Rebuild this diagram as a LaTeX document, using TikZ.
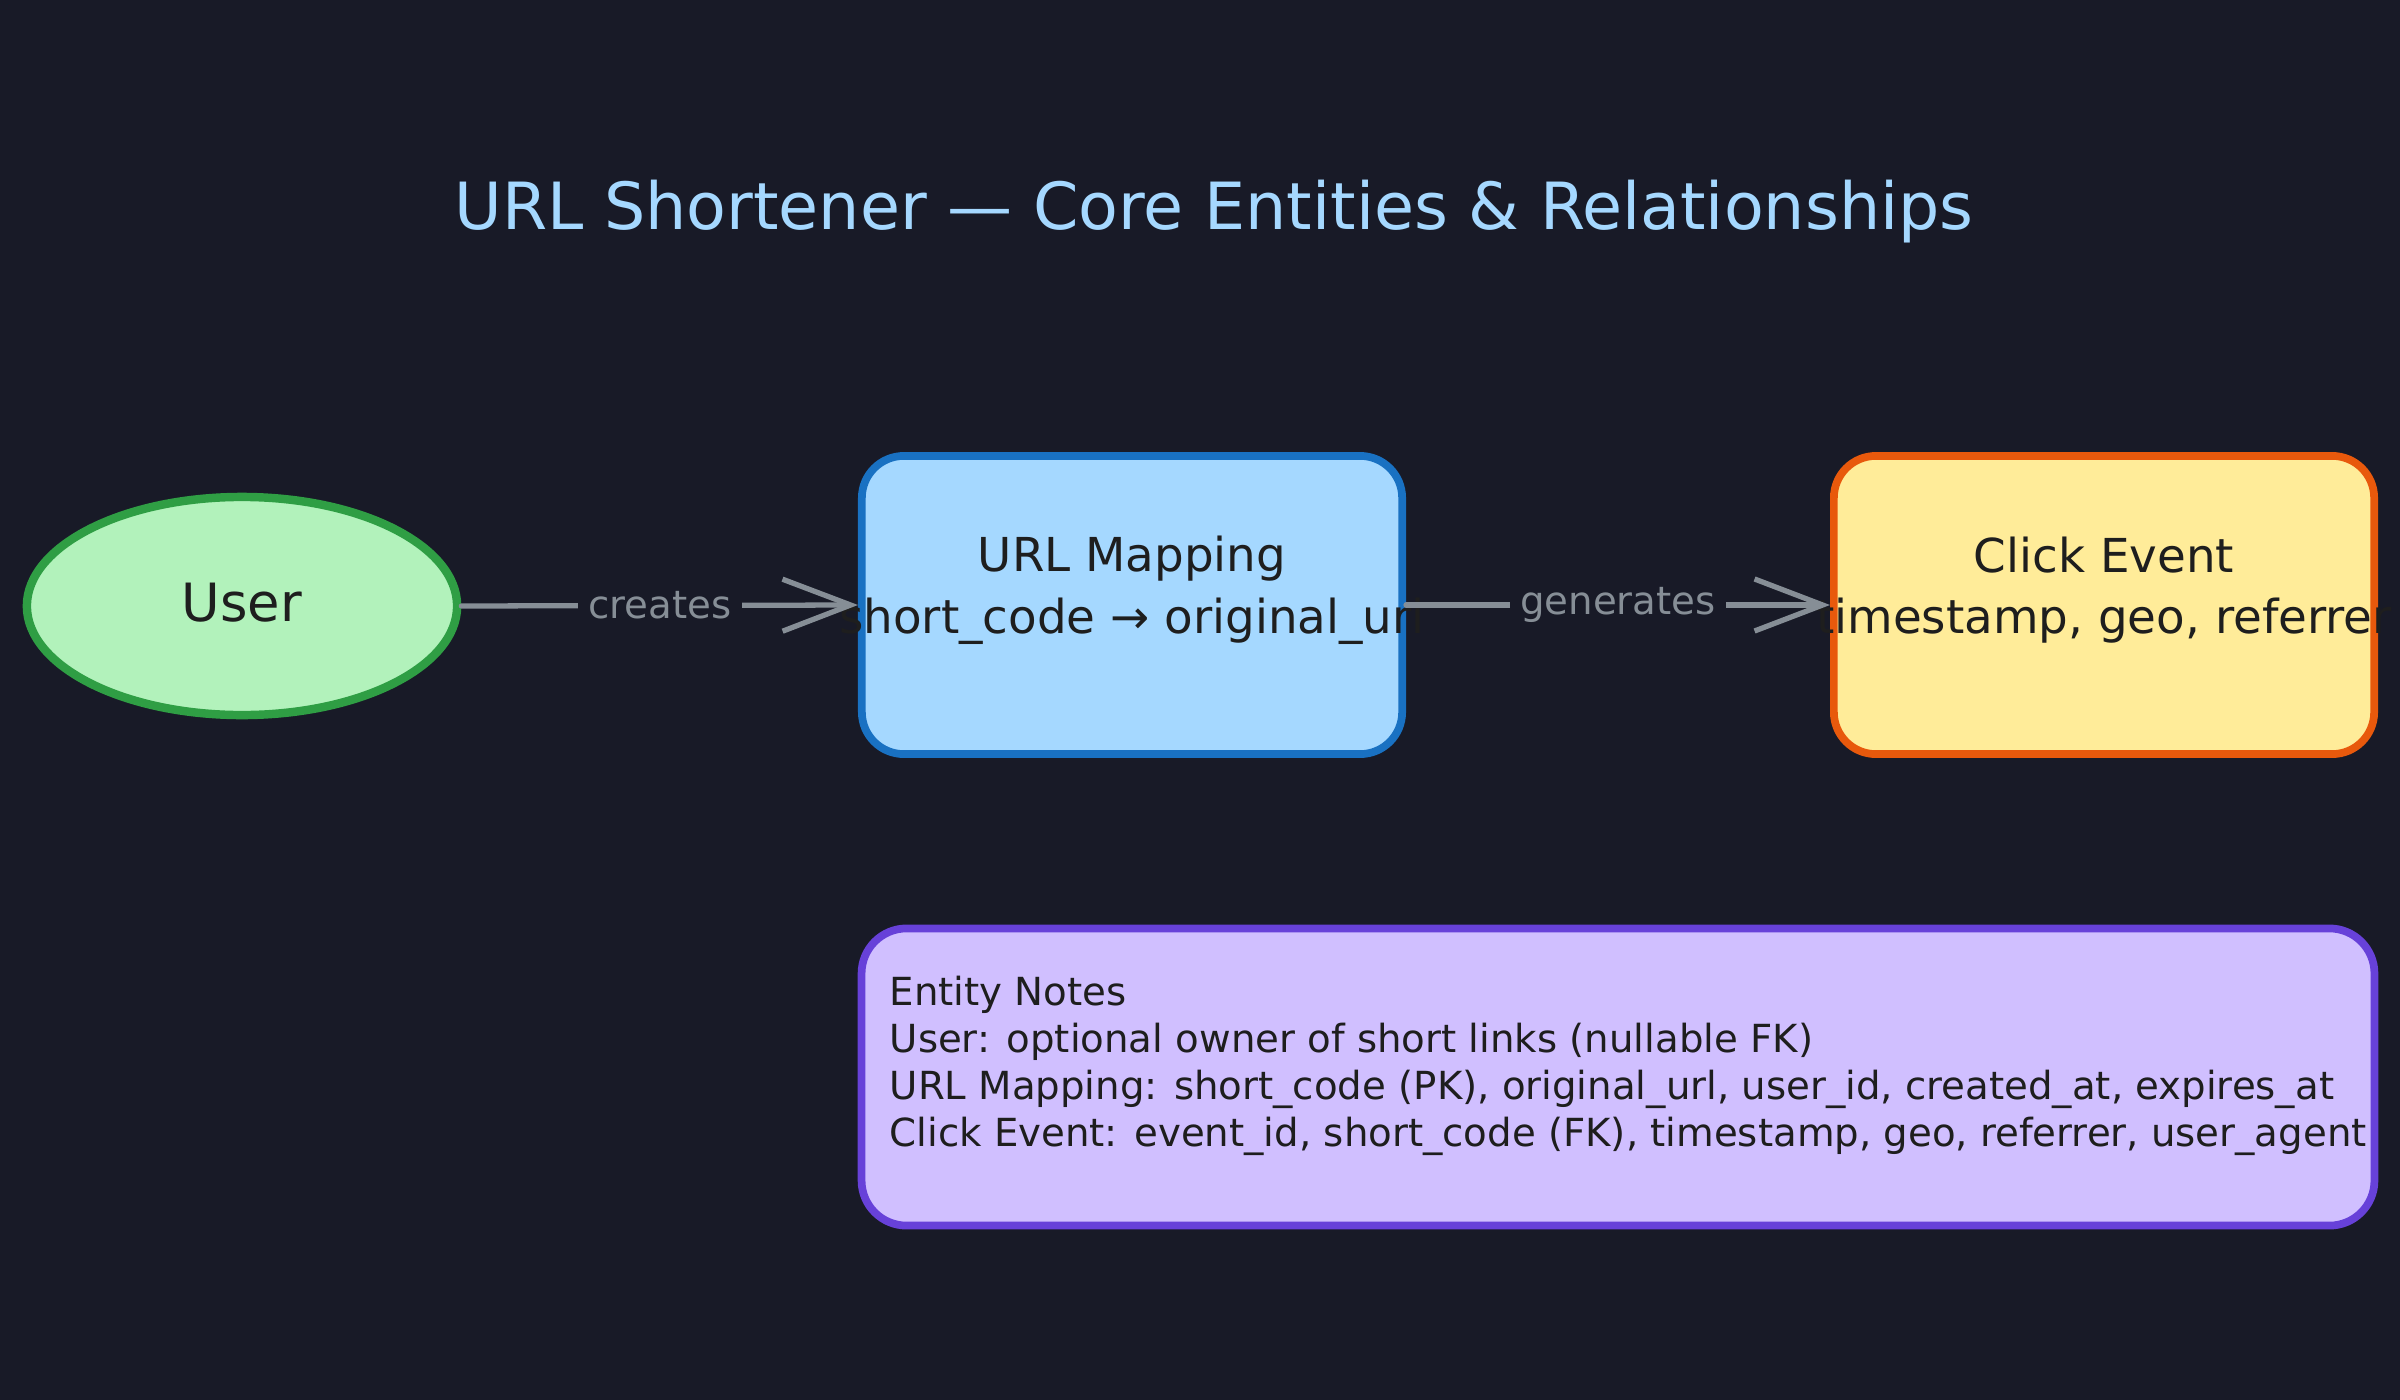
\documentclass[tikz,border=0pt]{standalone}
\usepackage{fontspec}
\setmainfont{DejaVu Sans}
\usetikzlibrary{arrows.meta,shapes.geometric}
\definecolor{bg}{HTML}{181A27}
\definecolor{ink}{HTML}{1E1E1E}
\definecolor{edgegray}{HTML}{868E96}
\definecolor{titleblue}{HTML}{A5D8FF}
\definecolor{userfill}{HTML}{B2F2BB}
\definecolor{userline}{HTML}{2F9E44}
\definecolor{urlfill}{HTML}{A5D8FF}
\definecolor{urlline}{HTML}{1971C2}
\definecolor{clickfill}{HTML}{FFEC99}
\definecolor{clickline}{HTML}{E8590C}
\definecolor{notefill}{HTML}{D0BFFF}
\definecolor{noteline}{HTML}{6741D9}
\tikzset{
  entitybox/.style={rectangle, rounded corners=0.42cm, line width=2.2pt, minimum width=5.4cm, minimum height=2.98cm, inner sep=0pt},
  entitytext/.style={text=ink, align=center, font=\fontsize{13.3}{17.5}\selectfont, inner sep=0pt},
  relarrow/.style={draw=edgegray, line width=1.5pt, line cap=round, -{Straight Barb[length=6.8mm,width=5.2mm,line width=1.5pt]}},
  rellabel/.style={fill=bg, text=edgegray, font=\fontsize{11}{13}\selectfont, inner sep=3pt},
}
\begin{document}
\begin{tikzpicture}[x=0.01cm,y=-0.01cm]
\fill[bg] (0,0) rectangle (2400,1400);
\useasboundingbox (0,0) rectangle (2400,1400);

\node[text=titleblue, font=\fontsize{18.5}{22}\selectfont] (title) at (1214,212) {URL Shortener — Core Entities \& Relationships};

\node[ellipse, draw=userline, fill=userfill, line width=2.4pt, minimum width=4.3cm, minimum height=2.18cm, inner sep=0pt] (user) at (242,606) {};
\node[entitytext, font=\fontsize{15}{18}\selectfont] (usertext) at (242,603) {User};

\node[entitybox, draw=urlline, fill=urlfill] (url) at (1132,605) {};
\node[entitytext] (urltext) at (1132,590) {URL Mapping\\short\_code → original\_url};

\node[entitybox, draw=clickline, fill=clickfill] (click) at (2104,605) {};
\node[entitytext] (clicktext) at (2104,590) {Click Event\\timestamp, geo, referrer};

\node[rectangle, rounded corners=0.45cm, line width=2.2pt, draw=noteline, fill=notefill, minimum width=15.12cm, minimum height=2.97cm, inner sep=0pt] (notes) at (1618,1077) {};
\node[anchor=west, align=left, text=ink, font=\fontsize{11}{13.4}\selectfont, inner sep=0pt] (notestext) at (889,1066) {Entity Notes\\User: optional owner of short links (nullable FK)\\URL Mapping: short\_code (PK), original\_url, user\_id, created\_at, expires\_at\\Click Event: event\_id, short\_code (FK), timestamp, geo, referrer, user\_agent};

\draw[relarrow] (user.east) -- node[rellabel] {creates} (url.west);
\draw[relarrow] (url.east) -- node[rellabel] {generates} (click.west);
\end{tikzpicture}
\end{document}
